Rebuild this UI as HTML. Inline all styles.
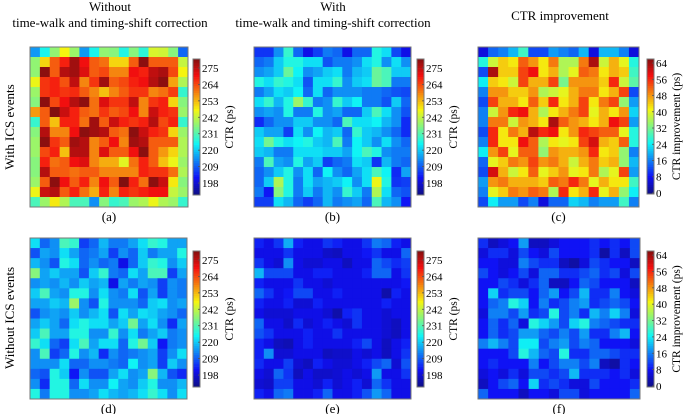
<!DOCTYPE html>
<html><head><meta charset="utf-8">
<style>
body{margin:0;background:#fff;}
svg{display:block;font-family:"Liberation Serif",serif;}
</style></head>
<body>
<svg id="fig" width="685" height="414" viewBox="0 0 685 414" xmlns="http://www.w3.org/2000/svg">
<text x="110" y="11" font-size="13" text-anchor="middle">Without</text>
<text x="110" y="27" font-size="13" text-anchor="middle">time-walk and timing-shift correction</text>
<text x="333" y="11" font-size="13" text-anchor="middle">With</text>
<text x="333" y="27" font-size="13" text-anchor="middle">time-walk and timing-shift correction</text>
<text x="560" y="20" font-size="13" text-anchor="middle">CTR improvement</text>
<text transform="translate(14,127) rotate(-90)" font-size="13" text-anchor="middle">With ICS events</text>
<text transform="translate(14,318) rotate(-90)" font-size="13" text-anchor="middle">Without ICS events</text>
</svg>
<script>
const ctrTicks=[275,264,253,242,231,220,209,198];
const impTicks=[64,56,48,40,32,24,16,8,0];
const panelLabels=["(a)","(b)","(c)","(d)","(e)","(f)"];
const dataA=[
[215,225,237,247,238,215,225,237,236,226,236,227,244,243,236,210],
[237,250,262,268,278,270,262,260,250,250,262,280,262,262,262,242],
[237,280,262,276,278,272,262,264,258,258,270,268,275,277,264,247],
[246,266,268,263,275,258,266,278,262,264,268,270,276,280,255,240],
[238,266,268,266,267,262,258,252,258,262,266,266,258,260,265,228],
[236,280,264,270,276,280,260,272,266,266,275,258,266,268,250,236],
[256,262,282,274,268,262,260,266,262,264,270,258,274,268,266,238],
[228,262,252,268,268,260,278,262,274,268,266,268,276,264,268,228],
[236,276,258,258,270,280,278,276,262,260,280,274,268,266,250,238],
[238,280,266,262,278,276,258,262,270,258,278,276,262,262,262,240],
[238,264,268,252,276,276,258,272,262,262,270,280,262,256,250,240],
[236,268,260,262,270,272,258,254,254,245,260,268,262,252,246,238],
[236,276,262,262,260,262,262,258,258,258,258,268,266,266,260,240],
[238,262,280,270,262,268,258,270,262,282,268,260,280,274,248,236],
[246,274,276,262,268,260,254,268,258,268,266,268,270,270,242,238],
[230,238,248,240,230,230,214,236,228,230,238,240,246,240,238,228]];
const dataB=[
[205,205,214,228,210,200,206,212,210,200,210,210,226,222,207,200],
[210,212,220,226,226,222,222,208,212,212,214,222,226,214,222,214],
[214,216,220,233,224,214,216,220,222,212,218,220,233,230,220,220],
[226,222,228,226,222,208,222,222,228,214,220,222,233,230,212,212],
[212,216,222,220,224,210,222,210,214,214,214,212,212,210,208,207],
[222,228,218,226,238,228,212,214,228,220,224,212,212,208,220,210],
[214,216,214,226,212,212,226,214,216,210,210,220,230,222,214,208],
[204,210,214,214,220,220,214,214,210,230,222,222,224,218,214,204],
[220,216,216,206,222,214,224,218,220,210,228,220,218,214,210,204],
[222,234,226,222,224,226,220,218,230,212,224,220,214,222,214,210],
[220,218,212,212,222,222,222,220,220,216,224,230,226,214,212,212],
[212,230,216,214,226,216,220,206,210,212,222,220,205,218,212,210],
[210,214,220,226,214,222,210,224,214,210,216,222,230,224,204,216],
[210,220,240,226,212,222,216,218,220,224,214,222,246,226,205,206],
[212,202,236,226,212,220,212,218,214,228,220,212,240,222,210,208],
[206,206,222,218,210,206,210,218,212,214,216,210,230,218,214,202]];
const dataC=[
[6,14,16,20,28,12,12,18,16,14,20,6,20,20,16,6],
[26,38,44,42,52,48,42,50,36,36,50,63,38,46,40,26],
[12,63,44,44,54,58,42,46,36,40,52,50,42,46,44,28],
[24,44,42,38,54,46,46,54,32,48,48,48,44,56,38,30],
[16,48,48,44,44,48,36,38,40,46,50,50,42,46,54,12],
[12,54,46,46,42,52,44,56,42,46,54,42,50,54,34,18],
[16,38,48,56,58,46,36,42,46,50,54,40,46,42,48,22],
[16,50,50,38,48,46,42,63,52,48,46,42,46,58,54,18],
[12,56,42,50,46,62,56,58,42,48,56,54,52,52,40,26],
[16,56,42,42,58,52,36,42,40,42,54,60,46,44,52,26],
[24,48,54,40,52,52,34,48,46,46,48,56,42,44,34,16],
[14,40,44,50,48,54,48,50,46,38,46,50,44,46,34,20],
[12,60,46,38,42,52,40,44,48,40,42,50,36,40,54,18],
[18,48,50,46,46,46,44,52,50,56,50,40,46,42,42,28],
[16,40,44,50,48,52,50,36,56,42,46,56,40,46,34,24],
[12,24,18,18,12,16,6,14,14,22,20,16,18,18,28,16]];
const dataD=[
[222,210,214,230,228,206,210,218,212,212,216,222,228,226,216,216],
[208,216,214,222,216,210,212,216,206,214,210,220,212,216,216,226],
[218,214,208,226,222,210,214,210,212,200,210,220,228,226,214,220],
[236,216,220,216,216,208,220,228,212,210,222,216,230,230,206,216],
[214,216,214,218,214,220,216,218,200,216,212,216,214,206,214,212],
[220,230,216,214,226,226,214,222,214,212,222,208,216,206,214,212],
[216,216,220,218,238,214,208,226,214,214,214,210,220,222,214,216],
[208,214,216,214,220,214,218,222,208,222,216,222,220,216,214,210],
[216,220,216,210,222,226,222,222,216,220,234,216,222,214,204,216],
[220,230,216,216,226,226,214,214,228,214,222,212,216,220,212,214],
[228,222,210,206,222,230,216,222,222,210,226,234,220,202,212,214],
[214,230,206,210,226,214,218,204,214,210,212,214,216,206,214,222],
[214,214,214,222,210,210,214,214,212,210,224,214,216,206,220,214],
[210,208,226,220,202,214,208,208,216,222,214,216,236,218,208,204],
[214,204,226,226,210,222,214,214,224,216,214,220,226,214,214,218],
[226,212,226,226,214,214,216,222,218,216,218,222,228,222,214,222]];
const dataE=[
[203,200,205,217,203,200,200,205,203,200,200,205,212,210,203,200],
[200,200,200,205,200,200,200,197,196,200,200,202,205,200,200,210],
[205,200,198,214,200,198,198,200,200,196,200,200,210,207,204,206],
[218,207,207,207,200,200,203,203,200,200,200,203,210,210,200,205],
[203,200,200,200,205,200,200,198,200,200,200,200,200,200,200,202],
[210,205,200,202,207,207,200,200,203,200,200,200,200,194,203,200],
[203,200,200,203,198,198,203,200,200,200,200,200,200,203,200,200],
[200,198,198,198,200,200,200,198,194,203,205,200,200,198,200,200],
[210,200,200,197,204,198,200,203,200,198,205,200,200,198,196,200],
[208,205,200,200,200,203,200,200,205,200,200,200,200,198,196,200],
[203,200,196,195,200,203,200,200,200,200,203,207,200,196,200,203],
[203,214,198,198,200,200,200,196,197,197,200,198,200,196,200,205],
[204,200,200,206,198,196,203,200,198,198,200,203,207,210,198,208],
[200,198,210,205,196,200,197,197,198,200,198,200,215,200,200,205],
[198,197,206,206,200,200,198,203,198,200,203,198,210,205,200,200],
[203,200,210,212,200,200,203,210,200,200,203,208,215,210,200,200]];
const dataF=[
[10,4,6,8,18,4,4,6,8,8,8,10,8,10,8,12],
[6,10,10,6,12,8,6,12,8,8,8,10,2,10,4,12],
[8,8,6,6,16,12,10,10,4,2,6,12,10,8,8,4],
[12,8,6,8,12,6,14,14,10,10,12,14,10,12,6,12],
[8,8,12,10,6,10,14,4,4,8,14,12,8,8,8,4],
[8,22,10,12,12,8,14,18,8,12,20,10,10,16,8,6],
[8,14,16,26,22,8,16,10,12,16,18,10,12,14,12,8],
[6,16,16,12,18,10,12,26,12,16,10,20,16,22,16,6],
[8,14,10,14,6,26,22,18,12,22,26,16,14,12,10,10],
[8,14,10,12,18,18,14,12,16,12,18,10,10,16,20,8],
[16,20,16,12,24,24,12,16,18,12,16,14,8,8,8,6],
[8,8,8,12,26,20,14,12,26,10,10,14,14,12,10,10],
[8,10,8,8,8,16,8,12,16,16,12,16,4,2,10,8],
[6,8,6,10,6,12,12,10,12,20,10,10,10,8,10,6],
[4,8,12,14,8,22,10,12,10,6,6,12,8,8,8,10],
[14,8,8,8,4,8,8,6,12,12,6,8,8,8,8,14]];

const NS="http://www.w3.org/2000/svg";
const svg=document.getElementById('fig');
function jet(t){t=Math.max(0,Math.min(1,t));
 const r=Math.max(0,Math.min(1,Math.min(4*t-1.5,-4*t+4.5)));
 const g=Math.max(0,Math.min(1,Math.min(4*t-0.5,-4*t+3.5)));
 const b=Math.max(0,Math.min(1,Math.min(4*t+0.5,-4*t+2.5)));
 const mix=v=>Math.round((v*0.9+0.06)*255);
 return `rgb(${mix(r)},${mix(g)},${mix(b)})`;}
function el(tag,attrs){const e=document.createElementNS(NS,tag);for(const k in attrs)e.setAttribute(k,attrs[k]);svg.appendChild(e);return e;}

const panels=[
 {d:dataA,x:30,y:47,w:158,h:160,vmin:190,vmax:281,cbx:193,cby:59,cbh:136,ticks:ctrTicks,lab:"CTR (ps)",labx:233,name:'a'},
 {d:dataB,x:254,y:47,w:157,h:160,vmin:190,vmax:281,cbx:417,cby:59,cbh:136,ticks:ctrTicks,lab:"CTR (ps)",labx:457,name:'b'},
 {d:dataC,x:478,y:47,w:161,h:160,vmin:-0.5,vmax:66,cbx:647,cby:59,cbh:135,ticks:impTicks,lab:"CTR improvement (ps)",labx:680,name:'c'},
 {d:dataD,x:30,y:238,w:157,h:161,vmin:190,vmax:281,cbx:193,cby:251,cbh:136,ticks:ctrTicks,lab:"CTR (ps)",labx:233,name:'d'},
 {d:dataE,x:254,y:238,w:157,h:161,vmin:190,vmax:281,cbx:417,cby:251,cbh:136,ticks:ctrTicks,lab:"CTR (ps)",labx:457,name:'e'},
 {d:dataF,x:478,y:238,w:162,h:161,vmin:-0.5,vmax:66,cbx:647,cby:251,cbh:136,ticks:impTicks,lab:"CTR improvement (ps)",labx:680,name:'f'}];

panels.forEach((p,pi)=>{
 const n=p.d.length, m=p.d[0].length;
 const cw=p.w/m, ch=p.h/n;
 const g=el('g',{});
 
 
 p.d.forEach((row,i)=>row.forEach((v,j)=>{
  const r=document.createElementNS(NS,'rect');
  r.setAttribute('x',(p.x+j*cw).toFixed(2));r.setAttribute('y',(p.y+i*ch).toFixed(2));
  r.setAttribute('width',(cw+0.4).toFixed(2));r.setAttribute('height',(ch+0.4).toFixed(2));
  r.setAttribute('fill',jet((v-p.vmin)/(p.vmax-p.vmin)));
  
  
  g.appendChild(r);}));
 const fr=el('rect',{x:p.x,y:p.y,width:p.w,height:p.h,fill:'none',stroke:'#777','stroke-width':1});
 
 
 const steps=60;
 for(let k=0;k<steps;k++){
  const t=1-(k+0.5)/steps;
  const s=el('rect',{x:p.cbx,y:(p.cby+k*p.cbh/steps).toFixed(2),width:7,height:(p.cbh/steps+0.3).toFixed(2),fill:jet(t)});
  
  
 }
 const cf=el('rect',{x:p.cbx,y:p.cby,width:7,height:p.cbh,fill:'none',stroke:'#777','stroke-width':1});
 
 
 p.ticks.forEach(tv=>{
  const yy=p.cby+p.cbh*(1-(tv-p.vmin)/(p.vmax-p.vmin));
  el('line',{x1:p.cbx+5,x2:p.cbx+7,y1:yy,y2:yy,stroke:'#555','stroke-width':0.8});
  const t=el('text',{x:p.cbx+9,y:yy+4,'font-size':11});
  t.textContent=tv;
  
  
 });
 const lt=el('text',{transform:`translate(${p.labx},${p.cby+p.cbh/2}) rotate(-90)`,'font-size':11.5,'text-anchor':'middle'});
 lt.textContent=p.lab;
 
 
 const pl=el('text',{x:p.x+p.w/2,y:p.y+p.h+14,'font-size':13,'text-anchor':'middle'});
 pl.textContent=panelLabels[pi];
 
 
});
</script>
</body></html>
